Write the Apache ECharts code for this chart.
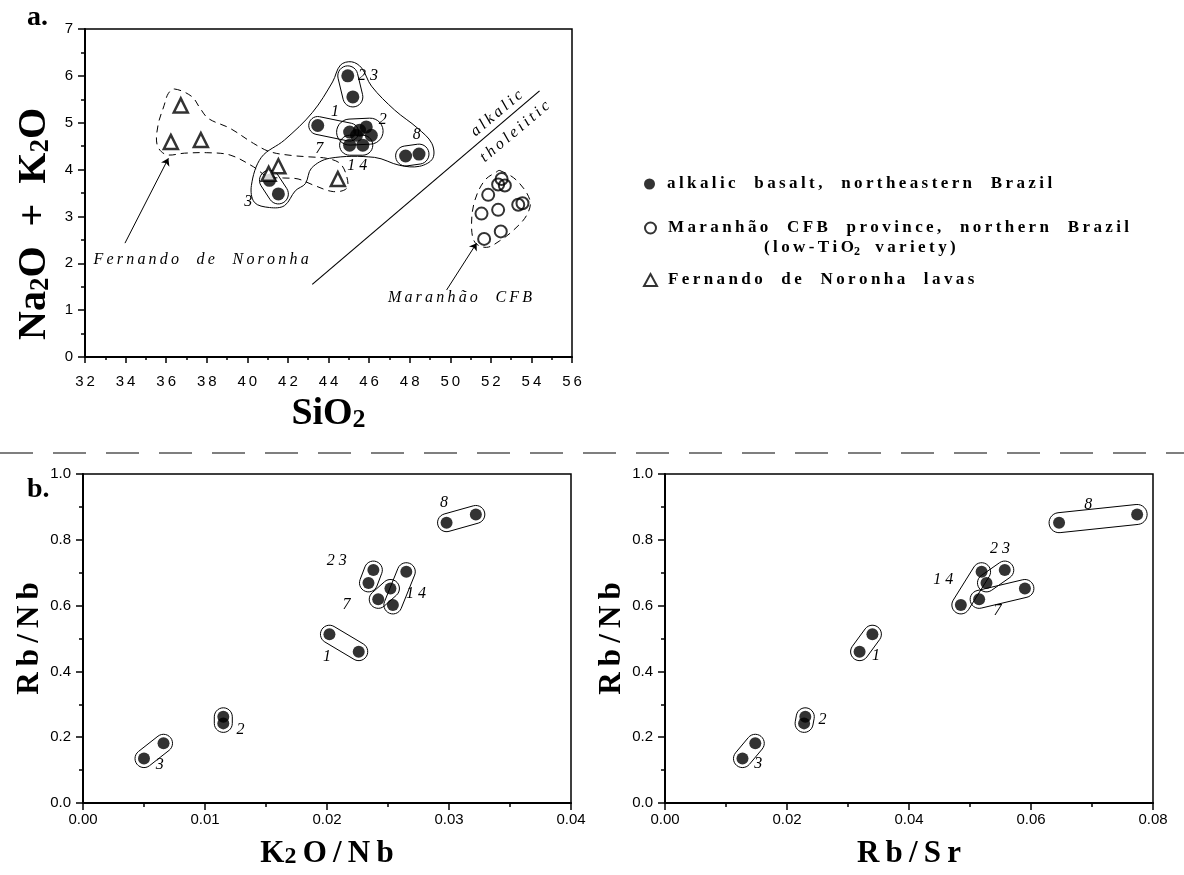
<!DOCTYPE html>
<html><head><meta charset="utf-8">
<script src="https://cdn.jsdelivr.net/npm/echarts@6.0.0/dist/echarts.min.js"></script>
<style>html,body{margin:0;padding:0;background:#fff}#c{width:1184px;height:875px}</style>
</head><body><div id="c"></div>
<script>
// ===== Panel a: Na2O+K2O vs SiO2 =====
const alkalicSiO2 = [44.95, 45.20, 43.47, 45.04, 45.38, 45.53, 45.86, 46.11, 45.04, 45.69, 47.80, 48.46, 41.09, 41.53];
const alkalicAlk  = [6.00, 5.55, 4.94, 4.80, 4.73, 4.84, 4.91, 4.73, 4.52, 4.52, 4.29, 4.33, 3.77, 3.48];
const maranhaoSiO2 = [52.53, 52.69, 52.36, 51.87, 51.54, 52.36, 53.35, 53.56, 51.67, 52.49];
const maranhaoAlk  = [3.80, 3.66, 3.68, 3.46, 3.06, 3.14, 3.25, 3.28, 2.52, 2.68];
const noronhaSiO2 = [36.72, 36.23, 37.71, 41.53, 41.05, 44.46];
const noronhaAlk  = [5.37, 4.59, 4.63, 4.07, 3.91, 3.80];
const divideSiO2 = [43.2, 54.4];
const divideAlk  = [1.55, 5.68];
// group enclosures (pairs of end points) in panel a
const pairA_x1 = [44.95, 43.47, 45.04, 45.04, 47.80, 41.09];
const pairA_y1 = [6.00, 4.94, 4.52, 4.80, 4.29, 3.77];
const pairA_x2 = [45.20, 45.04, 45.69, 46.05, 48.46, 41.53];
const pairA_y2 = [5.55, 4.80, 4.52, 4.82, 4.33, 3.48];
const outlineAlkalic = [[40.20,3.66],[40.69,4.26],[41.83,4.63],[43.21,5.22],[44.20,5.87],[44.59,6.23],[45.14,6.30],[45.63,6.17],[46.12,5.78],[47.26,5.27],[48.40,4.88],[49.09,4.56],[49.14,4.24],[48.49,4.07],[47.51,4.09],[46.27,4.26],[44.05,4.24],[43.16,4.03],[42.86,3.70],[42.37,3.55],[41.83,3.23],[41.09,3.19],[40.35,3.30]];
const outlineNoronha = [[36.40,5.72],[37.26,5.56],[37.67,5.31],[38.08,5.09],[39.15,4.88],[40.30,4.56],[41.12,4.38],[42.20,4.30],[43.09,4.27],[43.91,4.24],[44.57,4.13],[44.90,3.85],[44.90,3.60],[44.24,3.53],[43.25,3.67],[42.50,3.80],[41.80,3.82],[41.00,3.85],[40.30,4.06],[39.15,4.31],[38.00,4.36],[36.90,4.35],[36.00,4.32],[35.56,4.52],[35.60,4.95],[35.90,5.37],[36.10,5.62]];
const outlineMaranhao = [[52.44,3.98],[53.27,3.77],[53.93,3.34],[53.76,3.02],[53.10,2.70],[52.44,2.48],[51.79,2.34],[51.21,2.45],[51.05,2.84],[51.21,3.34],[51.70,3.77],[52.28,3.95]];
const groupLabelsA = ['2 3', '1', '2', '8', '7', '1 4', '3'];
const groupLabelsAX = [45.95, 44.32, 46.67, 48.35, 43.55, 45.42, 40.05];
const groupLabelsAY = [6.00, 5.23, 5.07, 4.74, 4.45, 4.08, 3.31];
const annotA = ['Fernando de Noronha', 'Maranhão CFB', 'alkalic', 'tholeiitic'];
const annotAX = [37.72, 50.48, 52.29, 53.19];
const annotAY = [2.07, 1.26, 5.20, 4.81];
const arrowFrom = [[33.97, 2.43], [49.82, 1.43]];
const arrowTo   = [[36.11, 4.24], [51.30, 2.43]];
const xTicksA = [32, 56, 2];
const yTicksA = [0, 7, 1];

// ===== Panel b: Rb/Nb vs K2O/Nb and Rb/Sr =====
const sampleGroup = ['1','1','2','2','3','3','7','7','8','8','1 4','1 4','2 3','2 3'];
const k2oNb = [0.0202, 0.0226, 0.0115, 0.0115, 0.0066, 0.0050, 0.0242, 0.0252, 0.0298, 0.0322, 0.0265, 0.0254, 0.0238, 0.0234];
const rbSr  = [0.0340, 0.0319, 0.0230, 0.0228, 0.0148, 0.0127, 0.0515, 0.0590, 0.0646, 0.0774, 0.0519, 0.0485, 0.0557, 0.0527];
const rbNb  = [0.513, 0.460, 0.262, 0.242, 0.1815, 0.135, 0.619, 0.652, 0.852, 0.877, 0.703, 0.602, 0.708, 0.669];
const groupLabelsB = ['1', '2', '3', '7', '8', '1 4', '2 3'];
const labelK2oX = [0.0200, 0.0129, 0.0063, 0.0216, 0.0296, 0.0273, 0.0208];
const labelK2oY = [0.445, 0.222, 0.116, 0.602, 0.913, 0.635, 0.736];
const labelRbSrX = [0.0346, 0.0258, 0.0153, 0.0545, 0.0694, 0.0456, 0.0549];
const labelRbSrY = [0.447, 0.254, 0.119, 0.584, 0.906, 0.678, 0.772];

const legendNames = ['alkalic basalt, northeastern Brazil', 'Maranhão CFB province, northern Brazil (low-TiO2 variety)', 'Fernando de Noronha lavas'];

// ===== helpers =====
const SERIF = "'Liberation Serif','Times New Roman',serif";
const SANS = "'Liberation Sans',Arial,sans-serif";
const track = s => Array.from(s).join('\u2009');
const wide = s => track(s.replace(/ /g, '\u00a0\u00a0'));

function capsule(p1, p2, r) {
  const a = Math.atan2(p2[1] - p1[1], p2[0] - p1[0]);
  const pts = [];
  for (let i = 0; i <= 14; i++) { const t = a + Math.PI / 2 + Math.PI * i / 14; pts.push([p1[0] + r * Math.cos(t), p1[1] + r * Math.sin(t)]); }
  for (let i = 0; i <= 14; i++) { const t = a - Math.PI / 2 + Math.PI * i / 14; pts.push([p2[0] + r * Math.cos(t), p2[1] + r * Math.sin(t)]); }
  return pts;
}
function capsuleSeries(data, g, radii) {
  return { type: 'custom', xAxisIndex: g, yAxisIndex: g, silent: true, z: 1, data: data,
    encode: { x: [0, 2], y: [1, 3] },
    renderItem: (params, api) => {
      const p1 = api.coord([api.value(0), api.value(1)]);
      const p2 = api.coord([api.value(2), api.value(3)]);
      const r = radii[params.dataIndex];
      return { type: 'polygon', shape: { points: capsule(p1, p2, r) }, style: { fill: 'none', stroke: '#000', lineWidth: 1 } };
    } };
}
function outlineSeries(pts, g, dashed) {
  return { type: 'custom', xAxisIndex: g, yAxisIndex: g, silent: true, z: 1, data: [pts[0]],
    renderItem: (params, api) => ({ type: 'polygon', shape: { points: pts.map(p => api.coord(p)), smooth: 0.35 },
      style: { fill: 'none', stroke: '#000', lineWidth: 1, lineDash: dashed ? [7, 5] : null } }) };
}
function labelSeries(xs, ys, texts, g, fontSize, rotFn) {
  return { type: 'scatter', xAxisIndex: g, yAxisIndex: g, silent: true, z: 5, symbolSize: 1,
    itemStyle: { color: 'rgba(0,0,0,0)' },
    data: xs.map((x, i) => ({ value: [x, ys[i]], name: texts[i],
      label: { rotate: rotFn ? rotFn(i) : 0 } })),
    label: { show: true, opacity: 1, position: 'inside', color: '#000', fontFamily: SERIF, fontStyle: 'italic', fontSize: fontSize,
      formatter: p => p.name } };
}
function axis(extra, labelFmt, labelMargin) {
  return Object.assign({ type: 'value',
    axisLine: { show: true, onZero: false, lineStyle: { color: '#000', width: 2 } },
    axisTick: { show: true, inside: false, length: 7, lineStyle: { color: '#000', width: 1.5 } },
    minorTick: { show: true, splitNumber: 2, length: 4, lineStyle: { color: '#000', width: 1.5 } },
    splitLine: { show: false }, minorSplitLine: { show: false },
    axisLabel: { color: '#000', fontFamily: SANS, fontSize: 15, margin: labelMargin, formatter: labelFmt, showMinLabel: true, showMaxLabel: true }
  }, extra);
}
const nameRich = (size, sub) => ({
  b: { fontFamily: SERIF, fontWeight: 'bold', fontSize: size, lineHeight: size + 8, color: '#000', verticalAlign: 'bottom' },
  s: { fontFamily: SERIF, fontWeight: 'bold', fontSize: sub, lineHeight: Math.round(sub * 0.7), color: '#000', verticalAlign: 'bottom' }
});

const pairsA = pairA_x1.map((x, i) => [x, pairA_y1[i], pairA_x2[i], pairA_y2[i]]);
const pairsK = [], pairsS = [];
for (let i = 0; i < sampleGroup.length; i += 2) {
  pairsK.push([k2oNb[i], rbNb[i], k2oNb[i + 1], rbNb[i + 1]]);
  pairsS.push([rbSr[i], rbNb[i], rbSr[i + 1], rbNb[i + 1]]);
}

const chart = echarts.init(document.getElementById('c'), null, { renderer: 'canvas' });
const legendText = { fontFamily: SERIF, fontWeight: 'bold', fontSize: 17, color: '#000', lineHeight: 20 };
const LEG_LEFT = 644;
const option = {
  animation: false,
  backgroundColor: '#fff',
  grid: [
    { left: 85, top: 29, width: 487, height: 328, show: true, borderColor: '#000', borderWidth: 1.5, containLabel: false },
    { left: 83, top: 474, width: 488, height: 329, show: true, borderColor: '#000', borderWidth: 1.5, containLabel: false },
    { left: 665, top: 474, width: 488, height: 329, show: true, borderColor: '#000', borderWidth: 1.5, containLabel: false }
  ],
  xAxis: [
    axis({ gridIndex: 0, min: xTicksA[0], max: xTicksA[1], interval: xTicksA[2],
      axisTick: { show: true, length: 6, lineStyle: { color: '#000', width: 1.5 } },
      minorTick: { show: true, splitNumber: 2, length: 3, lineStyle: { color: '#000', width: 1.5 } },
      name: '{b|SiO}{s|2}', nameLocation: 'middle', nameGap: 30, nameTextStyle: { rich: nameRich(38, 26) } },
      v => track(String(v)), 17),
    axis({ gridIndex: 1, min: 0, max: 0.04, interval: 0.01,
      name: '{b|' + track('K') + '}{s|2}{b|\u2009' + track('O/Nb') + '}', nameLocation: 'middle', nameGap: 27,
      nameTextStyle: { rich: nameRich(31, 24) } }, v => v.toFixed(2), 9),
    axis({ gridIndex: 2, min: 0, max: 0.08, interval: 0.02,
      name: '{b|' + track('Rb/Sr') + '}', nameLocation: 'middle', nameGap: 27,
      nameTextStyle: { rich: nameRich(31, 24) } }, v => v.toFixed(2), 9)
  ],
  yAxis: [
    axis({ gridIndex: 0, min: yTicksA[0], max: yTicksA[1], interval: yTicksA[2],
      name: '{b|Na}{s|2}{b|O\u00a0\u00a0+\u00a0\u00a0K}{s|2}{b|O}', nameLocation: 'middle', nameGap: 30,
      nameTextStyle: { padding: [0, 62, 0, 0], rich: nameRich(40, 27) } }, v => String(v), 12),
    axis({ gridIndex: 1, min: 0, max: 1, interval: 0.2,
      name: '{b|' + track('Rb/Nb') + '}', nameLocation: 'middle', nameGap: 38,
      nameTextStyle: { rich: nameRich(31, 24) } }, v => v.toFixed(1), 12),
    axis({ gridIndex: 2, min: 0, max: 1, interval: 0.2,
      name: '{b|' + track('Rb/Nb') + '}', nameLocation: 'middle', nameGap: 38,
      nameTextStyle: { rich: nameRich(31, 24) } }, v => v.toFixed(1), 12)
  ],
  legend: [
    { data: [legendNames[0]], left: LEG_LEFT, top: 174, padding: 0, orient: 'vertical', icon: 'circle', itemWidth: 11, itemHeight: 11,
      selectedMode: false, textStyle: Object.assign({}, legendText, { padding: [0, 0, 0, 7] }), formatter: n => wide(n) },
    { data: [legendNames[1]], left: LEG_LEFT, top: 198, padding: 0, orient: 'vertical', icon: 'circle', itemWidth: 11, itemHeight: 11,
      selectedMode: false,
      textStyle: Object.assign({}, legendText, { padding: [20, 0, 0, 7], rich: {
        t: legendText,
        u: Object.assign({}, legendText, { padding: [0, 0, 0, 96] }),
        v: legendText,
        s: { fontFamily: SERIF, fontWeight: 'bold', fontSize: 12, lineHeight: 8, verticalAlign: 'bottom', color: '#000' } } }),
      formatter: () => '{t|' + wide('Maranhão CFB province, northern Brazil') + '}\n{u|' + wide('(low-TiO') + '}{s|2}{v|' + wide(' variety)') + '}' },
    { data: [legendNames[2]], left: LEG_LEFT - 1, top: 270, padding: 0, orient: 'vertical', icon: 'triangle', itemWidth: 13, itemHeight: 12,
      selectedMode: false, textStyle: Object.assign({}, legendText, { padding: [0, 0, 0, 6] }), formatter: n => wide(n) }
  ],
  graphic: [
    { type: 'text', left: 27, top: 4, style: { text: 'a.', fontFamily: SERIF, fontWeight: 'bold', fontSize: 28, fill: '#000' } },
    { type: 'text', left: 27, top: 476, style: { text: 'b.', fontFamily: SERIF, fontWeight: 'bold', fontSize: 28, fill: '#000' } },
    { type: 'line', shape: { x1: 0, y1: 453, x2: 1184, y2: 453 }, style: { stroke: '#555', lineWidth: 1.5, lineDash: [33, 20] } }
  ],
  series: [
    outlineSeries(outlineAlkalic, 0, false),
    outlineSeries(outlineNoronha, 0, true),
    outlineSeries(outlineMaranhao, 0, true),
    capsuleSeries(pairsA, 0, [10, 9, 10, 13, 10, 10]),
    { type: 'line', xAxisIndex: 0, yAxisIndex: 0, silent: true, symbol: 'none', z: 2,
      data: divideSiO2.map((x, i) => [x, divideAlk[i]]), lineStyle: { color: '#000', width: 1.2 } },
    { type: 'lines', coordinateSystem: 'cartesian2d', xAxisIndex: 0, yAxisIndex: 0, silent: true, z: 2,
      symbol: ['none', 'arrow'], symbolSize: 7, lineStyle: { color: '#000', width: 1, opacity: 1 },
      data: arrowFrom.map((f, i) => ({ coords: [f, arrowTo[i]] })) },
    { name: legendNames[0], type: 'scatter', xAxisIndex: 0, yAxisIndex: 0, z: 4, symbol: 'circle', symbolSize: 13,
      itemStyle: { color: '#000' }, data: alkalicSiO2.map((x, i) => [x, alkalicAlk[i]]) },
    { name: legendNames[1], type: 'scatter', xAxisIndex: 0, yAxisIndex: 0, z: 4, symbol: 'circle', symbolSize: 12,
      itemStyle: { color: 'rgba(255,255,255,0)', borderColor: '#000', borderWidth: 2 }, data: maranhaoSiO2.map((x, i) => [x, maranhaoAlk[i]]) },
    { name: legendNames[2], type: 'scatter', xAxisIndex: 0, yAxisIndex: 0, z: 4, symbol: 'triangle', symbolSize: 14,
      itemStyle: { color: '#fff', borderColor: '#000', borderWidth: 2.5 }, data: noronhaSiO2.map((x, i) => [x, noronhaAlk[i]]) },
    labelSeries(groupLabelsAX, groupLabelsAY, groupLabelsA, 0, 16),
    labelSeries(annotAX, annotAY, annotA.map(s => wide(s)), 0, 16, i => (i >= 2 ? 40 : 0)),
    capsuleSeries(pairsK, 1, [9, 9, 9, 9, 9, 9, 9]),
    { name: legendNames[0], type: 'scatter', xAxisIndex: 1, yAxisIndex: 1, z: 4, symbol: 'circle', symbolSize: 12,
      itemStyle: { color: '#000' }, data: k2oNb.map((x, i) => [x, rbNb[i]]) },
    labelSeries(labelK2oX, labelK2oY, groupLabelsB, 1, 16),
    capsuleSeries(pairsS, 2, [9, 9, 9, 9, 10, 9, 9]),
    { name: legendNames[0], type: 'scatter', xAxisIndex: 2, yAxisIndex: 2, z: 4, symbol: 'circle', symbolSize: 12,
      itemStyle: { color: '#000' }, data: rbSr.map((x, i) => [x, rbNb[i]]) },
    labelSeries(labelRbSrX, labelRbSrY, groupLabelsB, 2, 16)
  ]
};
chart.setOption(option);
</script>
</body></html>
